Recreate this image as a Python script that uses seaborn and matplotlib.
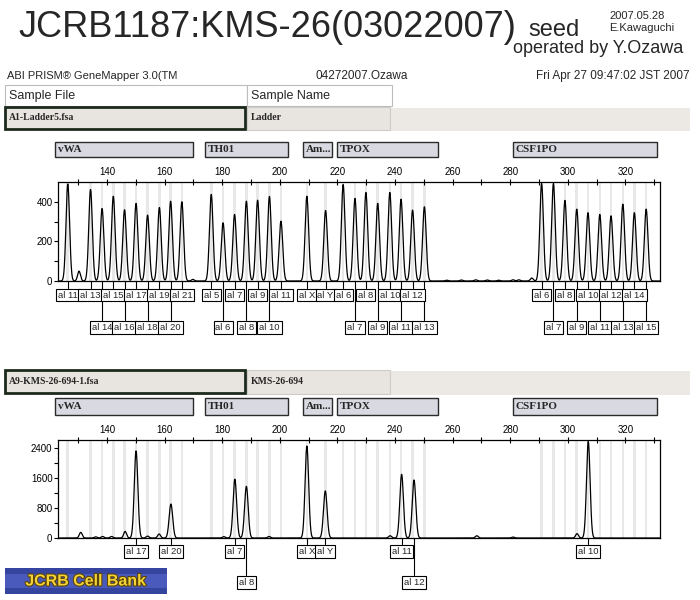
import numpy as np
import pandas as pd
import seaborn as sns
import matplotlib.pyplot as plt
import matplotlib.patheffects as pe
from matplotlib.patches import Rectangle
from matplotlib.transforms import blended_transform_factory

# =========================================================
#  Data
# =========================================================
loci = ['vWA', 'TH01', 'Am...', 'TPOX', 'CSF1PO']
locus_start = [122, 174, 208, 220, 281]
locus_end = [170, 203, 218, 255, 331]

# allelic ladder (top panel)
ladder_alleles = ['al 11', 'al 13', 'al 14', 'al 15', 'al 16', 'al 17', 'al 18', 'al 19', 'al 20', 'al 21',
                  'al 5', 'al 6', 'al 7', 'al 8', 'al 9', 'al 10', 'al 11',
                  'al X', 'al Y',
                  'al 6', 'al 7', 'al 8', 'al 9', 'al 10', 'al 11', 'al 12', 'al 13',
                  'al 6', 'al 7', 'al 8', 'al 9', 'al 10', 'al 11', 'al 12', 'al 13', 'al 14', 'al 15']
ladder_bp = [126.4, 134.3, 138.3, 142.2, 146.1, 150.1, 154.1, 158.2, 162.1, 166.0,
             176.2, 180.3, 184.3, 188.4, 192.3, 196.4, 200.4,
             209.4, 215.9,
             222.0, 226.1, 229.9, 234.0, 238.2, 242.1, 246.1, 250.2,
             290.9, 295.0, 299.0, 303.1, 307.0, 311.1, 315.0, 319.1, 323.1, 327.2]
ladder_rfu = [490, 462, 366, 428, 360, 392, 333, 371, 403, 400,
              437, 294, 336, 403, 408, 427, 302,
              428, 356,
              487, 417, 447, 392, 447, 413, 358, 375,
              492, 492, 407, 363, 345, 336, 329, 388, 345, 363]
ladder_noise_bp = [130.3, 169.8, 258, 263, 268, 272, 276, 281, 283, 287.5]
ladder_noise_rfu = [50, 8, 4, 5, 6, 5, 4, 6, 6, 15]

# sample KMS-26-694 (bottom panel)
sample_alleles = ['al 17', 'al 20', 'al 7', 'al 8', 'al X', 'al Y', 'al 11', 'al 12', 'al 10']
sample_bp = [150.1, 162.2, 184.4, 188.4, 209.4, 215.8, 242.3, 246.6, 307.1]
sample_rfu = [2310, 900, 1560, 1370, 2440, 1250, 1690, 1540, 2560]
sample_noise_bp = [130.9, 136.1, 138.5, 141.6, 146.3, 154.1, 158.1, 180.6, 196.3, 238.3, 268.4, 281.0, 303.2]
sample_noise_rfu = [150, 30, 40, 40, 175, 50, 105, 35, 40, 60, 60, 25, 115]

# =========================================================
#  Setup
# =========================================================
sns.set_theme(style='ticks')
SANS = ['Liberation Sans', 'DejaVu Sans']
SERIF = ['Liberation Serif', 'DejaVu Serif']
plt.rcParams['font.family'] = SANS
plt.rcParams['axes.linewidth'] = 0.9

W, H = 700, 600
fig = plt.figure(figsize=(7, 6), dpi=100)


def fy(y):
    return 1 - y / H


def fig_box(x0, y0, x1, y1, fc, ec='none', lw=0.8):
    fig.add_artist(Rectangle((x0 / W, fy(y1)), (x1 - x0) / W, (y1 - y0) / H,
                             transform=fig.transFigure, fc=fc, ec=ec, lw=lw))


def fig_text(x, y, s, **kw):
    fig.text(x / W, fy(y), s, **kw)


# =========================================================
#  Header
# =========================================================
fig_text(18, 37, 'JCRB1187:KMS-26(03022007)', fontsize=26, va='baseline')
fig_text(528, 36, 'seed', fontsize=17, va='baseline')
fig_text(609, 19, '2007.05.28', fontsize=8, va='baseline')
fig_text(609, 31, 'E.Kawaguchi', fontsize=8, va='baseline')
fig_text(513, 53, 'operated by Y.Ozawa', fontsize=13, va='baseline')

fig_text(7, 79, 'ABI PRISM® GeneMapper 3.0(TM', fontsize=8, va='baseline')
fig_text(315, 79, '04272007.Ozawa', fontsize=8.5, va='baseline')
fig_text(690, 79, 'Fri Apr 27 09:47:02 JST 2007', fontsize=8.5, va='baseline', ha='right')

fig_box(5, 85, 247, 106, 'white', '#bcbcbc')
fig_box(247, 85, 392, 106, 'white', '#bcbcbc')
fig_text(9, 99, 'Sample File', fontsize=9, va='baseline')
fig_text(251, 99, 'Sample Name', fontsize=9, va='baseline')


def sample_row(y0, y1, file_name, sample_name):
    fig_box(390, y0 + 1, 690, y1 + 2, '#ece8e3')
    fig_box(247, y0, 390, y1 + 1, '#e8e4df', '#cfcbc6')
    fig_box(5, y0, 245, y1, '#e8e4df', '#1c2a1c', 2)
    fig_text(9, (y0 + y1) / 2, file_name, fontsize=7, family=SERIF, fontweight='bold', va='center')
    fig_text(251, (y0 + y1) / 2, sample_name, fontsize=7, family=SERIF, fontweight='bold', va='center')


sample_row(107, 129, 'A1-Ladder5.fsa', 'Ladder')
sample_row(370, 393, 'A9-KMS-26-694-1.fsa', 'KMS-26-694')


# =========================================================
#  Electropherogram panels
# =========================================================
def draw_panel(top, bottom, box_y, row1_y, row2_y, alleles, bp, rfu, noise_bp, noise_rfu,
               ymax, ymajor, yminor):
    ax = fig.add_axes([58 / W, fy(bottom), (660 - 58) / W, (bottom - top) / H])
    blend = blended_transform_factory(ax.transData, fig.transFigure)

    # bins of the ladder as faint stripes
    for s in ladder_bp:
        ax.axvspan(s - 0.45, s + 0.45, color='#e8e8e8', lw=0, zorder=0)

    grid = np.arange(123, 332.01, 0.05)
    signal = np.zeros_like(grid)
    for s, h in zip(bp, rfu):
        signal += h * np.exp(-0.5 * ((grid - s) / 0.62) ** 2)
    for s, h in zip(noise_bp, noise_rfu):
        signal += h * np.exp(-0.5 * ((grid - s) / 0.5) ** 2)
    trace = pd.DataFrame({'bp': grid, 'rfu': signal})
    sns.lineplot(data=trace, x='bp', y='rfu', ax=ax, color='black', lw=0.9)
    ax.set(xlabel='', ylabel='')

    ax.set_xlim(123, 332)
    ax.set_ylim(0, ymax)
    ax.xaxis.tick_top()
    ax.set_xticks(np.arange(140, 321, 20))
    ax.set_xticks(np.arange(130, 331, 20), minor=True)
    ax.set_yticks(ymajor)
    ax.set_yticks(yminor, minor=True)
    ax.tick_params(axis='x', which='both', direction='inout', length=5, width=0.8, pad=1,
                   labelsize=7, colors='black')
    ax.tick_params(axis='y', which='both', direction='out', length=3, width=0.8, pad=1,
                   labelsize=7, colors='black')
    for sp in ax.spines.values():
        sp.set_color('black')

    # locus boxes above the axis
    for name, a, b in zip(loci, locus_start, locus_end):
        ax.add_patch(Rectangle((a, fy(box_y[1])), b - a, fy(box_y[0]) - fy(box_y[1]),
                               transform=blend, fc='#d9d9e1', ec='#2b2b2b', lw=1, clip_on=False))
        ax.text(a + 0.9, fy(sum(box_y) / 2), name, transform=blend, fontsize=8, family=SERIF,
                fontweight='bold', va='center', clip_on=False)

    # allele call labels, two staggered rows
    last1 = None
    for name, s in zip(alleles, bp):
        if last1 is None or s - last1 > 5.5:
            row_top, row_mid = row1_y
            last1 = s
        else:
            row_top, row_mid = row2_y
        ax.plot([s, s], [fy(bottom), fy(row_top)], transform=blend, color='black', lw=0.8,
                clip_on=False)
        ax.text(s, fy(row_mid), name, transform=blend, ha='center', va='center', fontsize=6.8,
                bbox=dict(boxstyle='square,pad=0.2', fc='white', ec='black', lw=0.8),
                clip_on=False, zorder=5)
    return ax


draw_panel(182, 281, (142, 157), (288, 295), (320, 327.5),
           ladder_alleles, ladder_bp, ladder_rfu, ladder_noise_bp, ladder_noise_rfu,
           500, [0, 200, 400], [100, 300])
draw_panel(440, 538, (398, 415), (544, 551.5), (575, 582.5),
           sample_alleles, sample_bp, sample_rfu, sample_noise_bp, sample_noise_rfu,
           2600, [0, 800, 1600, 2400], [400, 1200, 2000])

# =========================================================
#  Logo
# =========================================================
fig_box(5, 568, 167, 594, '#34449f')
fig_box(5, 574, 167, 588, '#4a5abc')
fig_text(86, 581, 'JCRB Cell Bank', fontsize=11.5, fontweight='bold',
         color='#f2d43a', ha='center', va='center',
         path_effects=[pe.withStroke(linewidth=1.5, foreground='#5a4000')])

fig.savefig('out.png', dpi=100)
